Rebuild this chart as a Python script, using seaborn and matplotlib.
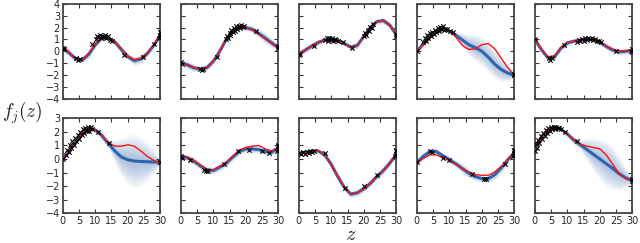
import numpy as np
import matplotlib
matplotlib.use("Agg")
import matplotlib.pyplot as plt
import seaborn as sns

z_grid = [0, 2, 4, 6, 8, 10, 12, 14, 16, 18, 20, 22, 24, 26, 28, 30]

# true function f_j(z) (red), top row then bottom row
true_f = [
    [0.4, -0.1, -0.6, -0.7, -0.2, 0.6, 1.1, 1.15, 0.8, 0.2, -0.4, -0.7, -0.6, -0.15, 0.55, 1.4],
    [-1.0, -1.15, -1.35, -1.5, -1.4, -0.85, 0.0, 1.0, 1.7, 2.05, 2.0, 1.8, 1.45, 1.05, 0.65, 0.25],
    [-0.2, 0.1, 0.45, 0.75, 0.95, 1.0, 0.9, 0.6, 0.3, 0.45, 1.2, 2.0, 2.5, 2.6, 2.2, 1.4],
    [0.0, 0.5, 1.1, 1.6, 1.85, 1.7, 1.2, 0.5, 0.15, 0.2, 0.55, 0.65, 0.2, -0.6, -1.4, -2.0],
    [1.0, 0.2, -0.45, -0.4, 0.3, 0.75, 0.85, 0.95, 1.0, 0.95, 0.75, 0.45, 0.15, 0.0, 0.05, 0.1],
    [0.0, 0.55, 1.25, 1.85, 2.25, 2.15, 1.75, 1.2, 0.95, 0.95, 1.05, 0.95, 0.6, 0.2, -0.1, -0.25],
    [0.25, 0.15, -0.1, -0.45, -0.75, -0.8, -0.55, -0.25, 0.2, 0.65, 0.85, 0.95, 1.0, 0.75, 0.6, 0.85],
    [0.45, 0.5, 0.6, 0.6, 0.3, -0.4, -1.3, -2.1, -2.55, -2.5, -2.2, -1.8, -1.3, -0.85, -0.3, 0.3],
    [-0.3, 0.05, 0.3, 0.3, 0.1, -0.1, -0.4, -0.7, -0.95, -1.15, -1.2, -1.2, -0.95, -0.55, -0.05, 0.45],
    [0.85, 1.6, 2.1, 2.3, 2.2, 1.85, 1.4, 1.1, 0.95, 0.85, 0.75, 0.3, -0.4, -1.1, -1.45, -1.6],
]

# posterior mean (blue)
post_mean = [
    [0.3, -0.15, -0.65, -0.75, -0.25, 0.55, 1.1, 1.15, 0.8, 0.15, -0.45, -0.8, -0.65, -0.2, 0.5, 1.35],
    [-1.0, -1.15, -1.4, -1.5, -1.4, -0.85, 0.0, 1.0, 1.7, 2.05, 2.0, 1.85, 1.5, 1.1, 0.7, 0.3],
    [-0.25, 0.1, 0.45, 0.75, 0.95, 1.0, 0.9, 0.65, 0.35, 0.5, 1.25, 2.0, 2.5, 2.6, 2.2, 1.4],
    [0.0, 0.6, 1.2, 1.6, 1.85, 1.7, 1.35, 0.95, 0.55, 0.3, 0.0, -0.5, -1.1, -1.55, -1.85, -2.0],
    [1.0, 0.15, -0.55, -0.5, 0.25, 0.7, 0.85, 0.95, 1.0, 0.95, 0.75, 0.4, 0.1, -0.05, 0.0, 0.05],
    [0.0, 0.55, 1.25, 1.85, 2.25, 2.15, 1.75, 1.15, 0.6, 0.15, -0.05, -0.15, -0.18, -0.2, -0.22, -0.25],
    [0.2, 0.1, -0.15, -0.5, -0.8, -0.85, -0.6, -0.3, 0.15, 0.55, 0.75, 0.75, 0.7, 0.55, 0.5, 0.85],
    [0.4, 0.5, 0.6, 0.6, 0.3, -0.4, -1.3, -2.1, -2.6, -2.5, -2.2, -1.8, -1.3, -0.85, -0.3, 0.35],
    [-0.25, 0.2, 0.55, 0.55, 0.25, -0.05, -0.35, -0.7, -1.05, -1.3, -1.45, -1.45, -1.15, -0.65, -0.05, 0.45],
    [0.85, 1.6, 2.1, 2.3, 2.2, 1.85, 1.4, 1.05, 0.7, 0.35, 0.0, -0.35, -0.7, -1.1, -1.4, -1.6],
]

# posterior standard deviation (width of the shaded band)
post_sd = [
    [0.15, 0.2, 0.12, 0.12, 0.2, 0.15, 0.08, 0.08, 0.12, 0.18, 0.15, 0.2, 0.2, 0.15, 0.12, 0.08],
    [0.1, 0.2, 0.18, 0.1, 0.15, 0.15, 0.1, 0.08, 0.06, 0.08, 0.15, 0.15, 0.2, 0.25, 0.2, 0.1],
    [0.1, 0.15, 0.12, 0.15, 0.08, 0.06, 0.08, 0.12, 0.12, 0.15, 0.08, 0.06, 0.12, 0.15, 0.15, 0.1],
    [0.1, 0.08, 0.06, 0.05, 0.05, 0.08, 0.15, 0.3, 0.45, 0.55, 0.6, 0.65, 0.6, 0.5, 0.35, 0.1],
    [0.1, 0.15, 0.1, 0.15, 0.12, 0.15, 0.08, 0.05, 0.05, 0.06, 0.1, 0.15, 0.15, 0.15, 0.12, 0.08],
    [0.05, 0.05, 0.05, 0.05, 0.05, 0.1, 0.2, 0.15, 0.4, 0.7, 0.9, 1.0, 0.9, 0.7, 0.4, 0.08],
    [0.1, 0.12, 0.15, 0.15, 0.12, 0.15, 0.15, 0.15, 0.15, 0.12, 0.12, 0.15, 0.12, 0.12, 0.12, 0.08],
    [0.05, 0.05, 0.05, 0.08, 0.1, 0.15, 0.15, 0.12, 0.15, 0.15, 0.12, 0.15, 0.12, 0.15, 0.15, 0.08],
    [0.1, 0.15, 0.12, 0.15, 0.1, 0.12, 0.15, 0.2, 0.2, 0.15, 0.12, 0.15, 0.2, 0.2, 0.15, 0.08],
    [0.05, 0.05, 0.05, 0.05, 0.05, 0.1, 0.15, 0.2, 0.4, 0.6, 0.75, 0.85, 0.8, 0.6, 0.35, 0.08],
]

# observations (black crosses)
obs_z = [
    [0, 0.3, 4.2, 4.8, 5.2, 9.0, 10.2, 10.6, 11.0, 11.4, 11.8, 12.2, 12.6, 13.0, 13.4, 13.9, 14.5, 15.2, 19.0, 24.8, 28.2, 29.6, 29.8, 30.0, 30.0],
    [0, 0.3, 5.8, 6.4, 7.0, 11.2, 14.0, 14.3, 14.6, 15.0, 15.3, 15.6, 16.0, 16.3, 16.7, 17.0, 17.4, 17.8, 18.2, 18.6, 19.0, 19.5, 23.2, 29.8, 30.0],
    [0, 0.3, 4.6, 8.2, 8.6, 9.0, 9.4, 9.8, 10.2, 10.6, 11.0, 11.5, 12.0, 13.6, 16.4, 20.0, 20.4, 20.8, 21.2, 21.6, 22.0, 22.4, 22.8, 29.8, 30.0],
    [0, 2.0, 2.4, 2.8, 3.2, 3.6, 4.0, 4.4, 4.8, 5.2, 5.6, 6.0, 6.4, 6.8, 7.2, 7.6, 8.0, 8.4, 8.8, 9.4, 10.2, 11.0, 29.8, 30.0],
    [0, 4.4, 4.8, 5.2, 9.0, 13.0, 13.5, 14.0, 14.5, 15.0, 15.5, 16.0, 16.5, 17.0, 17.5, 18.0, 18.5, 19.0, 19.6, 20.4, 25.0, 29.6, 30.0, 30.0],
    [0, 1.0, 1.4, 1.8, 2.2, 2.6, 3.0, 3.4, 3.8, 4.2, 4.6, 5.0, 5.4, 5.8, 6.2, 6.6, 7.0, 7.4, 7.8, 8.2, 8.6, 9.0, 11.0, 14.2, 29.8, 30.0],
    [0, 0.3, 3.0, 7.2, 7.8, 8.4, 13.4, 17.6, 21.0, 25.0, 27.2, 29.6, 29.8, 30.0, 30.0],
    [0, 0.6, 1.2, 1.8, 2.4, 3.0, 3.6, 4.2, 4.8, 8.0, 14.2, 20.0, 24.2, 29.6, 29.8, 30.0, 30.0],
    [0, 4.0, 4.6, 8.2, 10.0, 17.0, 20.6, 21.4, 27.0, 29.6, 29.8, 30.0, 30.0],
    [0, 0.3, 0.6, 1.0, 1.4, 1.8, 2.2, 2.6, 3.0, 3.4, 3.8, 4.2, 4.6, 5.0, 5.4, 5.8, 6.2, 6.6, 7.0, 7.6, 8.2, 9.2, 13.0, 29.8, 30.0],
]
obs_y = [
    [0.3, 0.15, -0.6, -0.7, -0.65, 0.6, 1.05, 1.3, 1.2, 1.35, 1.1, 1.3, 1.2, 1.35, 1.15, 1.25, 0.95, 0.85, -0.3, -0.45, 0.6, 1.1, 1.4, 1.6, 1.25],
    [-0.95, -1.05, -1.5, -1.55, -1.5, -0.5, 1.0, 1.3, 1.1, 1.55, 1.35, 1.8, 1.6, 2.0, 1.75, 2.1, 1.9, 2.15, 1.95, 2.2, 2.05, 2.1, 1.7, 0.3, 0.4],
    [-0.3, -0.2, 0.45, 0.95, 1.1, 0.9, 1.15, 0.95, 1.1, 0.9, 1.05, 0.95, 0.9, 0.75, 0.3, 1.25, 1.55, 1.4, 1.8, 1.7, 2.05, 1.95, 2.3, 1.3, 1.45],
    [0.0, 0.8, 1.1, 0.9, 1.35, 1.15, 1.5, 1.3, 1.65, 1.45, 1.8, 1.6, 1.95, 1.75, 2.05, 1.85, 2.1, 1.8, 1.9, 1.85, 1.75, 1.6, -2.0, -1.9],
    [1.0, -0.6, -0.7, -0.6, 0.55, 0.8, 0.95, 0.85, 1.05, 0.9, 1.1, 0.95, 1.15, 1.0, 1.1, 0.95, 1.05, 0.9, 0.85, 0.75, 0.05, 0.05, -0.1, 0.15],
    [0.0, 0.3, 0.7, 0.5, 1.0, 0.8, 1.3, 1.05, 1.55, 1.3, 1.8, 1.5, 2.0, 1.75, 2.2, 1.9, 2.3, 2.05, 2.4, 2.1, 2.35, 2.2, 2.0, 1.15, -0.25, -0.2],
    [0.2, 0.1, -0.05, -0.8, -0.9, -0.85, -0.4, 0.6, 0.7, 0.6, 0.45, 0.6, 0.95, 0.75, 1.05],
    [0.45, 0.35, 0.5, 0.4, 0.55, 0.45, 0.6, 0.5, 0.6, 0.45, -2.15, -2.0, -1.2, 0.25, 0.6, 0.4, 0.7],
    [-0.2, 0.6, 0.55, 0.05, -0.1, -1.1, -1.45, -1.45, -0.4, 0.25, 0.6, 0.45, 0.7],
    [0.6, 1.1, 0.8, 1.4, 1.15, 1.7, 1.45, 1.95, 1.7, 2.15, 1.9, 2.3, 2.1, 2.4, 2.2, 2.35, 2.25, 2.4, 2.3, 2.3, 2.2, 2.0, 1.3, -1.6, -1.5],
]

row_ylim = [(-4, 4), (-4, 3)]
BLUE = "#2f65b0"
RED = "#ff1010"

sns.set_style("ticks")
plt.rcParams["font.family"] = ["DejaVu Sans"]
plt.rcParams["mathtext.fontset"] = "cm"

fig, axes = plt.subplots(2, 5, figsize=(6.4, 2.43), dpi=100, sharex=True)
fig.subplots_adjust(left=0.098, right=0.988, top=0.984, bottom=0.123,
                    wspace=0.21, hspace=0.21)

zg = np.array(z_grid, dtype=float)
for i, ax in enumerate(axes.flat):
    row, col = divmod(i, 5)
    m = np.array(post_mean[i])
    s = np.array(post_sd[i])

    # soft shaded band: stacked translucent layers
    for k in np.linspace(0.3, 2.0, 10):
        ax.fill_between(zg, m - k * s, m + k * s, color=BLUE, alpha=0.045, lw=0)

    sns.lineplot(x=zg, y=m, ax=ax, color=BLUE, lw=2.2)
    sns.lineplot(x=zg, y=true_f[i], ax=ax, color=RED, lw=1.0)
    sns.scatterplot(x=obs_z[i], y=obs_y[i], ax=ax, marker="x", color="black",
                    s=10, linewidth=0.8, zorder=5)

    ax.set_xlim(0, 30)
    ax.set_ylim(*row_ylim[row])
    ax.set_xticks(range(0, 31, 5))
    ax.set_yticks(range(row_ylim[row][0], row_ylim[row][1] + 1))
    ax.tick_params(direction="in", top=True, right=True, length=3, width=0.8,
                   labelsize=7, pad=2, color="#333333")
    for sp in ax.spines.values():
        sp.set_linewidth(1.3)
        sp.set_color("#444444")
    if col != 0:
        ax.set_yticklabels([])
    if row == 0:
        ax.tick_params(labelbottom=False)
    ax.set_xlabel("")
    ax.set_ylabel("")

fig.text(0.003, 0.535, r"$f_j(z)$", fontsize=14, ha="left", va="center")
fig.text(0.548, 0.035, r"$z$", fontsize=15, ha="center", va="center")

fig.savefig("out.png", dpi=100)
